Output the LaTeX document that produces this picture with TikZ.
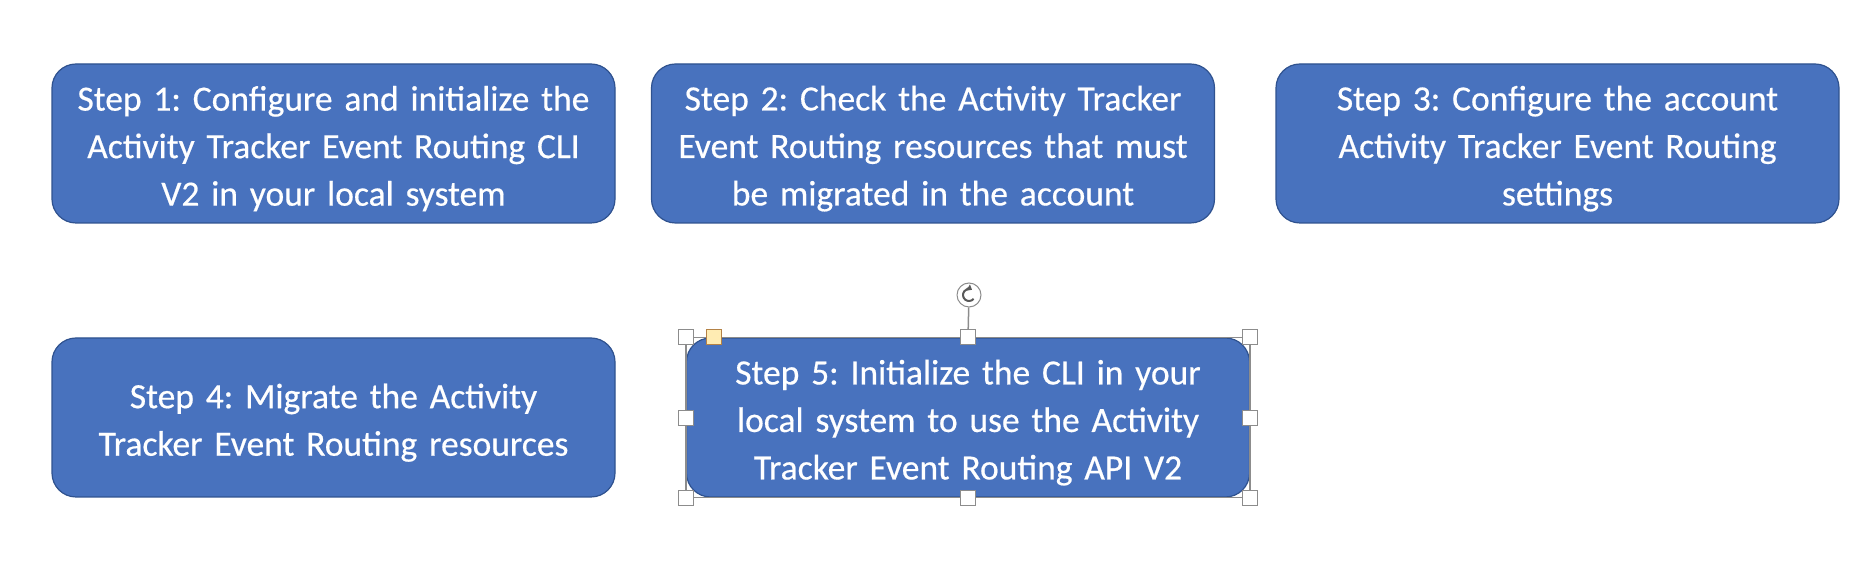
\documentclass[tikz,border=0pt]{standalone}
\usepackage{fontspec}
\setmainfont{Carlito}
\newfontface\stepfont{Carlito}[FakeBold=0.5]
\usepackage{tikz}
\usetikzlibrary{arrows.meta}
\definecolor{stepblue}{RGB}{72,114,190}
\definecolor{stepborder}{RGB}{47,82,143}
\definecolor{framegray}{RGB}{140,140,140}
\definecolor{handleyellow}{RGB}{255,236,179}
\definecolor{handlebrown}{RGB}{180,130,70}
\frenchspacing

\begin{document}
\begin{tikzpicture}[x=1pt, y=1pt, >=Stealth,
  stepbox/.style={draw=stepborder, line width=1.2pt, fill=stepblue, rounded corners=24pt,
    minimum width=563pt, minimum height=159pt, inner sep=0pt, text width=550pt, align=center,
    text=white, font=\stepfont\fontsize{35.5}{47.5}\selectfont,
    execute at begin node={\rule{0pt}{35pt}}},
  handle/.style={draw=framegray, line width=0.8pt, fill=white, minimum size=15pt, inner sep=0pt}]

% Page size
\useasboundingbox (0,0) rectangle (1866,572);

% Row positions
\def\toprow{428.5}
\def\bottomrow{154.5}

% Top row of steps
\node[stepbox] (step1) at (333.5,\toprow) {Step 1: Configure and initialize the\\Activity Tracker Event Routing CLI\\V2 in your local system};
\node[stepbox] (step2) at (933,\toprow) {Step 2: Check the Activity Tracker\\Event Routing resources that must\\be migrated in the account};
\node[stepbox] (step3) at (1557.5,\toprow) {Step 3: Configure the account\\Activity Tracker Event Routing\\settings};

% Bottom row of steps
\node[stepbox] (step4) at (333.5,\bottomrow) {Step 4: Migrate the Activity\\Tracker Event Routing resources};
\node[stepbox] (step5) at (968,\bottomrow) {Step 5: Initialize the CLI in your\\local system to use the Activity\\Tracker Event Routing API V2};

% Selection frame of step 5
\draw[framegray, line width=1.5pt] (step5.north west) rectangle (step5.south east);

% Rotation handle
\node[circle, draw=framegray, line width=1pt, fill=white, minimum size=24pt, inner sep=0pt] (rotate) at (969,277) {};
\foreach \a in {north west, north, north east, west, east, south west, south, south east}
  \node[handle] (h-\a) at (step5.\a) {};
\draw[framegray, line width=1.5pt] (rotate) -- (h-north);
\draw[black!65, line width=2pt, -{Triangle[length=4.5pt, width=7pt]}] ([shift={(-40:6pt)}]rotate.center) arc[start angle=-40, end angle=-300, radius=6pt];

% Adjust handle
\node[draw=handlebrown, line width=0.8pt, fill=handleyellow, minimum size=15pt, inner sep=0pt] (adjust) at ([xshift=28pt]step5.north west) {};

\end{tikzpicture}
\end{document}
